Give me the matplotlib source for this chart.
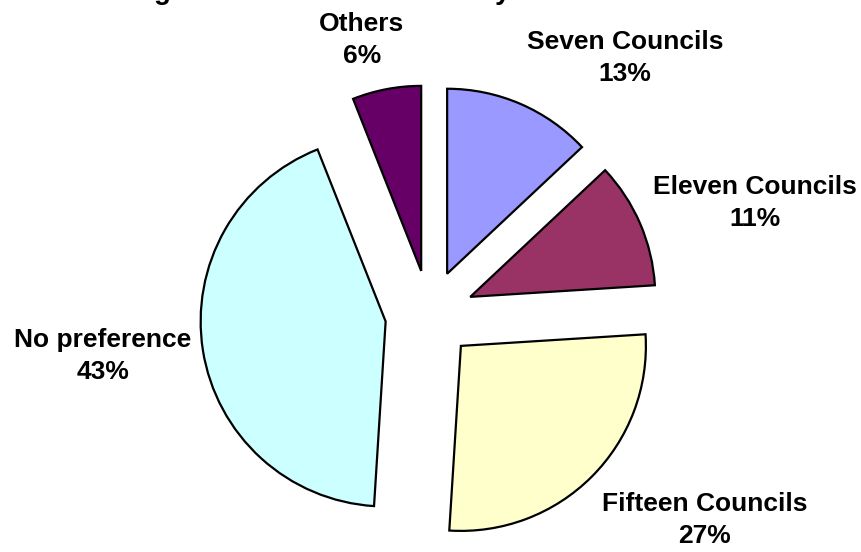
import matplotlib.pyplot as plt

plt.rcParams['font.family'] = ['Liberation Sans', 'DejaVu Sans']

# Share of respondents by preferred structure
categories = ["Seven Councils", "Eleven Councils", "Fifteen Councils", "No preference", "Others"]
shares = [13, 11, 27, 43, 6]
colors = ["#9999FF", "#993366", "#FFFFCC", "#CCFFFF", "#660066"]

title = "Agreed Council Structure by Ward"

# label anchor points in pixels (x, y from top), layout only
label_pos = [(625, 58), (755, 203), (705, 520), (103, 356), (362, 40)]

W, H = 862, 552
RADIUS = 185


def main():
    fig = plt.figure(figsize=(W / 100, H / 100), dpi=100)
    ax = fig.add_axes([0, 0, 1, 1])

    # pie's explode offset is in data units, so scale it by the radius
    ax.pie(shares, colors=colors, startangle=90, counterclock=False,
           explode=[0.24 * RADIUS] * len(shares), center=(429.5, H - 314.5),
           radius=RADIUS, wedgeprops=dict(edgecolor="black", linewidth=1.6))

    for name, val, (x, y) in zip(categories, shares, label_pos):
        ax.text(x, H - y, f"{name}\n{val}%", ha="center", va="center",
                fontsize=19, fontweight="bold", linespacing=1.45)

    # title sits mostly above the visible area, as in the source image
    ax.text(134, H + 1, title, ha="left", va="baseline",
            fontsize=20, fontweight="bold")

    ax.set_xlim(0, W)
    ax.set_ylim(0, H)
    ax.set_aspect("equal")
    ax.axis("off")

    fig.savefig("out.png", dpi=100)


if __name__ == "__main__":
    main()
